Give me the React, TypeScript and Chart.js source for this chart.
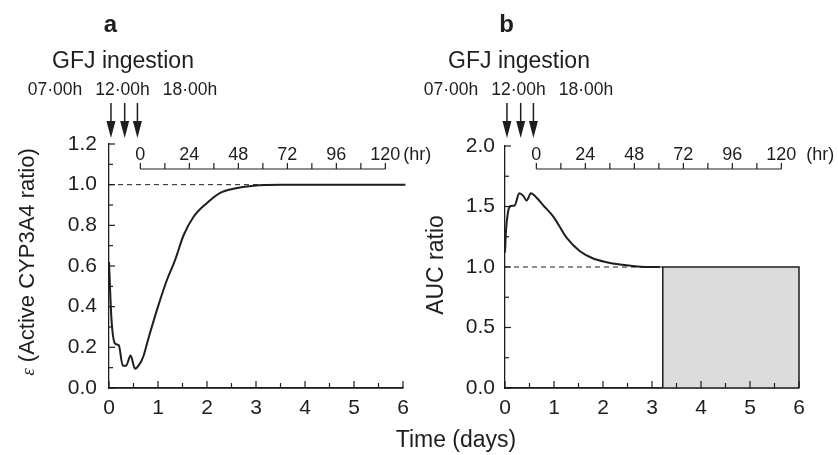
import { useEffect, useRef } from 'react';
import { Chart, registerables } from 'chart.js';

Chart.register(...registerables);

const FONT = '"Liberation Sans", Arial, Helvetica, sans-serif';
const INK = '#1e1e1e';

// ---------- data ----------
// shared x axis (days)
const xTicks = [0, 0.5, 1, 1.5, 2, 2.5, 3, 3.5, 4, 4.5, 5, 5.5, 6];
// secondary hour axis
const hrTicks = [0, 12, 24, 36, 48, 60, 72, 84, 96, 108, 120];
const hrLabels = [0, 24, 48, 72, 96, 120];
const hrZeroDay = 0.64;
// GFJ ingestion times
const doseLabels = ['07\u00B700h', '12\u00B700h', '18\u00B700h'];
const doseDays = [0.04, 0.32, 0.58];

// panel a : active CYP3A4 ratio
const daysA = [0, 0.05, 0.12, 0.2, 0.28, 0.35, 0.44, 0.53, 0.63, 0.7, 0.8, 1.0, 1.18, 1.35, 1.52, 1.72, 2.0, 2.27, 2.54, 2.95, 3.5, 4.0, 5.0, 6.05];
const epsA = [0.62, 0.34, 0.22, 0.21, 0.11, 0.11, 0.16, 0.095, 0.12, 0.155, 0.24, 0.4, 0.53, 0.63, 0.75, 0.84, 0.91, 0.96, 0.98, 0.995, 1.0, 1.0, 1.0, 1.0];
const refLineA = [0, 6.05];
const yTicksA = [0, 0.1, 0.2, 0.3, 0.4, 0.5, 0.6, 0.7, 0.8, 0.9, 1.0, 1.1, 1.2];

// panel b : AUC ratio
const daysB = [0, 0.02, 0.06, 0.1, 0.2, 0.29, 0.37, 0.44, 0.53, 0.65, 0.78, 0.99, 1.26, 1.53, 1.8, 2.07, 2.35, 2.7, 3.0, 3.16];
const aucB = [1.12, 1.3, 1.45, 1.5, 1.51, 1.61, 1.59, 1.55, 1.61, 1.57, 1.51, 1.415, 1.24, 1.13, 1.07, 1.04, 1.02, 1.005, 1.0, 1.0];
const refLineB = [0, 3.22];
const boxB = [3.22, 6];
const boxHeightB = 1.0;
const yTicksB = [0, 0.25, 0.5, 0.75, 1.0, 1.25, 1.5, 1.75, 2.0];

const isMult = (v: number, s: number) => Math.abs(v / s - Math.round(v / s)) < 1e-6;

function xScale() {
  return {
    type: 'linear',
    min: 0,
    max: 6,
    afterBuildTicks: (s: any) => { s.ticks = xTicks.map((v) => ({ value: v })); },
    afterFit: (s: any) => { s.height = 40; },
    grid: { display: false, drawTicks: false },
    border: { display: true, color: INK, width: 1.3 },
    ticks: {
      autoSkip: false, maxRotation: 0, minRotation: 0, padding: 8, color: INK,
      font: { family: FONT, size: 21 },
      callback: (v: any) => (isMult(Number(v), 1) ? String(Math.round(Number(v))) : ''),
    },
  };
}

function yScale(ticks: number[], max: number, labelStep: number, pad: number) {
  return {
    type: 'linear',
    min: 0,
    max,
    afterBuildTicks: (s: any) => { s.ticks = ticks.map((v) => ({ value: v })); },
    afterFit: (s: any) => { s.width = 60; },
    grid: { display: false, drawTicks: false },
    border: { display: true, color: INK, width: 1.3 },
    ticks: {
      autoSkip: false, padding: pad, color: INK,
      font: { family: FONT, size: 21 },
      callback: (v: any) => (isMult(Number(v), labelStep) ? Number(v).toFixed(1) : ''),
    },
  };
}

function line(ctx: CanvasRenderingContext2D, x1: number, y1: number, x2: number, y2: number) {
  ctx.beginPath();
  ctx.moveTo(x1, y1);
  ctx.lineTo(x2, y2);
  ctx.stroke();
}

function annotations(p: { letter: string; hrGap: number; yTitle: (ctx: CanvasRenderingContext2D) => void; extra?: (ctx: CanvasRenderingContext2D) => void }) {
  return {
    id: 'annot' + p.letter,
    afterDraw(chart: any) {
      const ctx: CanvasRenderingContext2D = chart.ctx;
      const xs = chart.scales.x;
      const ys = chart.scales.y;
      const L = xs.getPixelForValue(0);
      const R = xs.getPixelForValue(6);
      const B = ys.getPixelForValue(0);
      ctx.save();
      ctx.strokeStyle = INK;
      ctx.fillStyle = INK;
      // re-stroke the x axis line over any fill
      ctx.lineWidth = 1.3;
      line(ctx, L, B, R, B);
      ctx.lineWidth = 1.2;
      // inward tick marks
      xs.ticks.forEach((t: any) => {
        const px = xs.getPixelForValue(t.value);
        const len = t.label !== '' ? 7 : 5;
        line(ctx, px, B, px, B - len);
      });
      ys.ticks.forEach((t: any) => {
        const py = ys.getPixelForValue(t.value);
        const len = t.label !== '' ? 6 : 4;
        line(ctx, L, py, L + len, py);
      });
      // hour axis
      const hx = (h: number) => xs.getPixelForValue(hrZeroDay + h / 24);
      const hy = 169;
      line(ctx, hx(hrTicks[0]), hy, hx(hrTicks[hrTicks.length - 1]), hy);
      hrTicks.forEach((h) => line(ctx, hx(h), hy, hx(h), hy - 6));
      ctx.font = `18px ${FONT}`;
      ctx.textAlign = 'center';
      ctx.textBaseline = 'alphabetic';
      hrLabels.forEach((h) => ctx.fillText(String(h), hx(h), 159.5));
      ctx.textAlign = 'left';
      ctx.fillText('(hr)', hx(120) + p.hrGap, 159.5);
      // panel letter
      ctx.textAlign = 'center';
      ctx.font = `bold 24px ${FONT}`;
      ctx.fillText(p.letter, L + 1.5, 31.5);
      // GFJ ingestion
      ctx.font = `23px ${FONT}`;
      ctx.fillText('GFJ ingestion', L + 14, 68);
      ctx.font = `17.5px ${FONT}`;
      const offs = [-54, 13.5, 81];
      doseLabels.forEach((s, i) => ctx.fillText(s, L + offs[i], 95));
      // arrows
      ctx.lineWidth = 1.5;
      doseDays.forEach((d) => {
        const ax = xs.getPixelForValue(d);
        line(ctx, ax, 103, ax, 124);
        ctx.beginPath();
        ctx.moveTo(ax - 4.5, 121);
        ctx.lineTo(ax + 4.5, 121);
        ctx.lineTo(ax, 138);
        ctx.closePath();
        ctx.fill();
      });
      p.yTitle(ctx);
      if (p.extra) p.extra(ctx);
      ctx.restore();
    },
  };
}

const pts = (xs: number[], ys: number[]) => xs.map((x, i) => ({ x, y: ys[i] }));

export default function App() {
  const refA = useRef<HTMLCanvasElement>(null);
  const refB = useRef<HTMLCanvasElement>(null);

  useEffect(() => {
    document.body.style.margin = '0';
    const common = {
      animation: false,
      responsive: false,
      devicePixelRatio: 1,
      plugins: { legend: { display: false }, tooltip: { enabled: false } },
    };

    const chartA = new Chart(refA.current as HTMLCanvasElement, {
      type: 'scatter',
      data: {
        datasets: [
          { data: pts(daysA, epsA), showLine: true, borderColor: INK, borderWidth: 2, pointRadius: 0, cubicInterpolationMode: 'monotone', clip: false },
          { data: [{ x: refLineA[0], y: 1 }, { x: refLineA[1], y: 1 }], showLine: true, borderColor: INK, borderWidth: 1, borderDash: [5, 4], pointRadius: 0, clip: false },
        ],
      } as any,
      options: {
        ...common,
        layout: { padding: { left: 109 - 60, right: 838 - 403, top: 144, bottom: 27 } },
        scales: { x: xScale(), y: yScale(yTicksA, 1.2, 0.2, 12) },
      } as any,
      plugins: [
        annotations({
          letter: 'a',
          hrGap: 18,
          yTitle: (ctx) => {
            ctx.save();
            ctx.translate(33.5, 262);
            ctx.rotate(-Math.PI / 2);
            ctx.textBaseline = 'alphabetic';
            ctx.textAlign = 'left';
            const epsFont = 'italic 19px "Liberation Serif", "DejaVu Serif", serif';
            const restFont = `22px ${FONT}`;
            const rest = ' (Active CYP3A4 ratio)';
            ctx.font = epsFont;
            const w1 = ctx.measureText('\u03B5').width;
            ctx.font = restFont;
            const w2 = ctx.measureText(rest).width;
            const x0 = -(w1 + w2) / 2;
            ctx.font = epsFont;
            ctx.fillText('\u03B5', x0, 0);
            ctx.font = restFont;
            ctx.fillText(rest, x0 + w1, 0);
            ctx.restore();
          },
        }) as any,
      ],
    });

    const chartB = new Chart(refB.current as HTMLCanvasElement, {
      type: 'scatter',
      data: {
        datasets: [
          { data: pts(daysB, aucB), showLine: true, borderColor: INK, borderWidth: 2, pointRadius: 0, cubicInterpolationMode: 'monotone', clip: false },
          { data: [{ x: refLineB[0], y: 1 }, { x: refLineB[1], y: 1 }], showLine: true, borderColor: INK, borderWidth: 1, borderDash: [5, 4], pointRadius: 0, clip: false },
          {
            data: [
              { x: boxB[0], y: 0 }, { x: boxB[0], y: boxHeightB }, { x: boxB[1], y: boxHeightB }, { x: boxB[1], y: 0 },
            ],
            showLine: true, borderColor: INK, borderWidth: 1.5, backgroundColor: '#dcdcdd', fill: 'origin', pointRadius: 0, tension: 0, clip: false,
          },
        ],
      } as any,
      options: {
        ...common,
        layout: { padding: { left: 505 - 60, right: 838 - 799, top: 146, bottom: 27 } },
        scales: { x: xScale(), y: yScale(yTicksB, 2.0, 0.5, 10) },
      } as any,
      plugins: [
        annotations({
          letter: 'b',
          hrGap: 25,
          yTitle: (ctx) => {
            ctx.save();
            ctx.translate(443, 265);
            ctx.rotate(-Math.PI / 2);
            ctx.textBaseline = 'alphabetic';
            ctx.textAlign = 'center';
            ctx.font = `23px ${FONT}`;
            ctx.fillText('AUC ratio', 0, 0);
            ctx.restore();
          },
          extra: (ctx) => {
            ctx.textAlign = 'center';
            ctx.textBaseline = 'alphabetic';
            ctx.font = `23px ${FONT}`;
            ctx.fillText('Time (days)', 456, 447);
          },
        }) as any,
      ],
    });

    return () => {
      chartA.destroy();
      chartB.destroy();
    };
  }, []);

  return (
    <div style={{ position: 'relative', width: 838, height: 455, background: '#fff' }}>
      <canvas ref={refA} width={838} height={455} style={{ position: 'absolute', left: 0, top: 0 }} />
      <canvas ref={refB} width={838} height={455} style={{ position: 'absolute', left: 0, top: 0 }} />
    </div>
  );
}
